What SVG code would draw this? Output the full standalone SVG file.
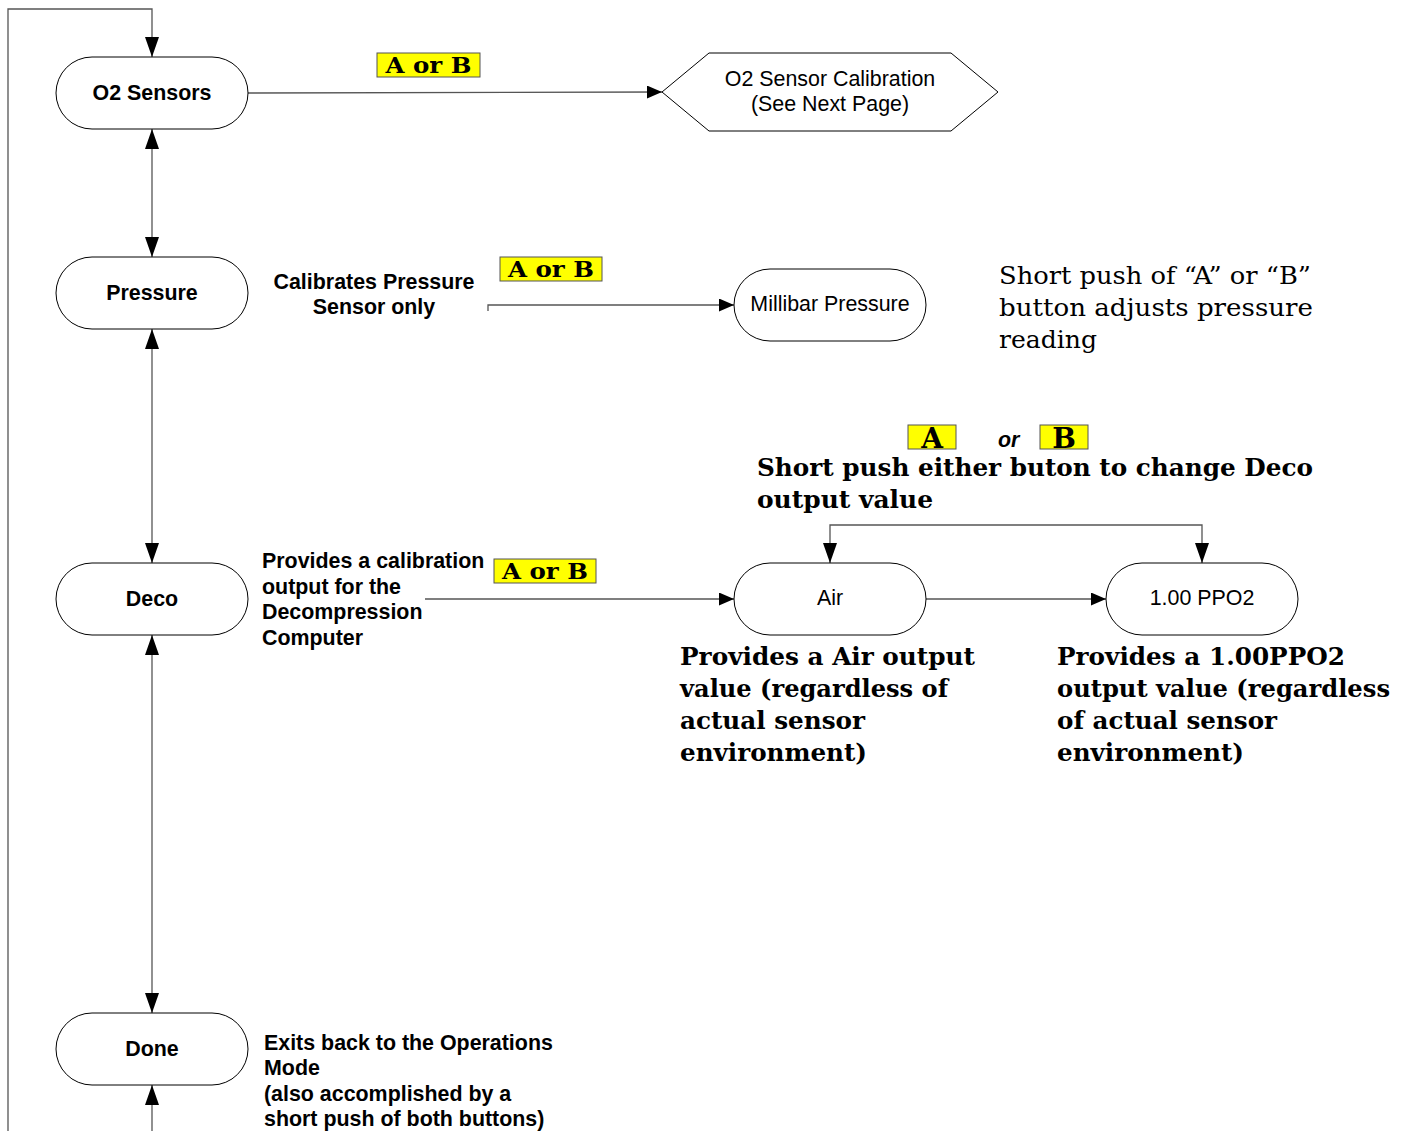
<svg xmlns="http://www.w3.org/2000/svg" width="1411" height="1131" viewBox="0 0 1411 1131">
<defs>
<marker id="arr" markerWidth="20" markerHeight="14" refX="20" refY="7" orient="auto-start-reverse" markerUnits="userSpaceOnUse">
<path d="M0,0 L20,7 L0,14 Z" fill="#000"/>
</marker>
<marker id="arrh" markerWidth="15" markerHeight="13" refX="15" refY="6.5" orient="auto-start-reverse" markerUnits="userSpaceOnUse">
<path d="M0,0 L15,6.5 L0,13 Z" fill="#000"/>
</marker>
<style>
.node{fill:#fff;stroke:#000;stroke-width:1}
.conn{fill:none;stroke:#555;stroke-width:1.3}
.lbl{font-family:"Liberation Sans",Arial,sans-serif;font-size:21.4px;fill:#000}
.b{font-weight:bold}
.ser{font-family:"DejaVu Serif","Liberation Serif",serif;fill:#000}
.key{fill:#ffff00;stroke:#555;stroke-width:1}
.keyt{font-family:"DejaVu Serif","Liberation Serif",serif;font-weight:900;font-size:22px;fill:#000}
.keyl{font-size:28px}
</style>
</defs>
<rect width="1411" height="1131" fill="#fff"/>
<g id="connectors">
<path class="conn" d="M8,1131 L8,9 L152,9 L152,57" marker-end="url(#arr)"/>
<path class="conn" d="M248,93 L662,92" marker-end="url(#arrh)"/>
<path class="conn" d="M152,129 L152,257" marker-start="url(#arr)" marker-end="url(#arr)"/>
<path class="conn" d="M152,329 L152,563" marker-start="url(#arr)" marker-end="url(#arr)"/>
<path class="conn" d="M152,635 L152,1013" marker-start="url(#arr)" marker-end="url(#arr)"/>
<path class="conn" d="M152,1131 L152,1085" marker-end="url(#arr)"/>
<path class="conn" d="M488,311 L488,305 L734,305" marker-end="url(#arrh)"/>
<path class="conn" d="M425,599 L734,599" marker-end="url(#arrh)"/>
<path class="conn" d="M926,599 L1106,599" marker-end="url(#arrh)"/>
<path class="conn" d="M830,563 L830,525 L1202,525 L1202,563" marker-start="url(#arr)" marker-end="url(#arr)"/>
</g>
<g id="o2sensors">
<rect class="node" x="56" y="57" width="192" height="72" rx="36" ry="36"/>
<text class="lbl b" x="152" y="100" text-anchor="middle">O2 Sensors</text>
</g>
<g id="calibration">
<polygon class="node" points="662,92 709,53 951,53 998,92 951,131 709,131"/>
<text class="lbl" x="830" y="86" text-anchor="middle">O2 Sensor Calibration</text>
<text class="lbl" x="830" y="111" text-anchor="middle">(See Next Page)</text>
</g>
<g id="pressure">
<rect class="node" x="56" y="257" width="192" height="72" rx="36" ry="36"/>
<text class="lbl b" x="152" y="300" text-anchor="middle">Pressure</text>
</g>
<g id="millibar">
<rect class="node" x="734" y="269" width="192" height="72" rx="36" ry="36"/>
<text class="lbl" x="830" y="311" text-anchor="middle">Millibar Pressure</text>
</g>
<g id="deco">
<rect class="node" x="56" y="563" width="192" height="72" rx="36" ry="36"/>
<text class="lbl b" x="152" y="606" text-anchor="middle">Deco</text>
</g>
<g id="air">
<rect class="node" x="734" y="563" width="192" height="72" rx="36" ry="36"/>
<text class="lbl" x="830" y="605" text-anchor="middle">Air</text>
</g>
<g id="ppo2">
<rect class="node" x="1106" y="563" width="192" height="72" rx="36" ry="36"/>
<text class="lbl" x="1202" y="605" text-anchor="middle">1.00 PPO2</text>
</g>
<g id="done">
<rect class="node" x="56" y="1013" width="192" height="72" rx="36" ry="36"/>
<text class="lbl b" x="152" y="1056" text-anchor="middle">Done</text>
</g>
<g id="keys">
<rect class="key" x="377" y="53" width="103" height="24"/>
<text class="keyt" x="428.5" y="73" text-anchor="middle" textLength="86" lengthAdjust="spacingAndGlyphs">A or B</text>
<rect class="key" x="500" y="257" width="102" height="24"/>
<text class="keyt" x="551" y="277" text-anchor="middle" textLength="86" lengthAdjust="spacingAndGlyphs">A or B</text>
<rect class="key" x="494" y="559" width="102" height="24"/>
<text class="keyt" x="545" y="579" text-anchor="middle" textLength="86" lengthAdjust="spacingAndGlyphs">A or B</text>
<rect class="key" x="908" y="425" width="48" height="24"/>
<text class="keyt keyl" x="932" y="448" text-anchor="middle">A</text>
<rect class="key" x="1040" y="425" width="48" height="24"/>
<text class="keyt keyl" x="1064" y="448" text-anchor="middle">B</text>
<text class="lbl b" x="998" y="447" font-style="italic">or</text>
</g>
<g id="labels">
<text class="lbl b" x="374" y="289" text-anchor="middle">Calibrates Pressure</text>
<text class="lbl b" x="374" y="314" text-anchor="middle">Sensor only</text>
<g class="ser" font-size="25">
<text x="999" y="284" textLength="312" lengthAdjust="spacingAndGlyphs">Short push of “A” or “B”</text>
<text x="999" y="316" textLength="314" lengthAdjust="spacingAndGlyphs">button adjusts pressure</text>
<text x="999" y="348" textLength="98" lengthAdjust="spacingAndGlyphs">reading</text>
</g>
<g class="ser" font-size="24" font-weight="bold">
<text x="757" y="476" textLength="556" lengthAdjust="spacingAndGlyphs">Short push either buton to change Deco</text>
<text x="757" y="508" textLength="176" lengthAdjust="spacingAndGlyphs">output value</text>
<text x="680" y="665" textLength="295" lengthAdjust="spacingAndGlyphs">Provides a Air output</text>
<text x="680" y="697" textLength="268" lengthAdjust="spacingAndGlyphs">value (regardless of</text>
<text x="680" y="729" textLength="185" lengthAdjust="spacingAndGlyphs">actual sensor</text>
<text x="680" y="761" textLength="187" lengthAdjust="spacingAndGlyphs">environment)</text>
<text x="1057" y="665" textLength="288" lengthAdjust="spacingAndGlyphs">Provides a 1.00PPO2</text>
<text x="1057" y="697" textLength="333" lengthAdjust="spacingAndGlyphs">output value (regardless</text>
<text x="1057" y="729" textLength="220" lengthAdjust="spacingAndGlyphs">of actual sensor</text>
<text x="1057" y="761" textLength="187" lengthAdjust="spacingAndGlyphs">environment)</text>
</g>
<text class="lbl b" x="262" y="568">Provides a calibration</text>
<text class="lbl b" x="262" y="594">output for the</text>
<text class="lbl b" x="262" y="619">Decompression</text>
<text class="lbl b" x="262" y="645">Computer</text>
<text class="lbl b" x="264" y="1050">Exits back to the Operations</text>
<text class="lbl b" x="264" y="1075">Mode</text>
<text class="lbl b" x="264" y="1101">(also accomplished by a</text>
<text class="lbl b" x="264" y="1126">short push of both buttons)</text>
</g>
</svg>
